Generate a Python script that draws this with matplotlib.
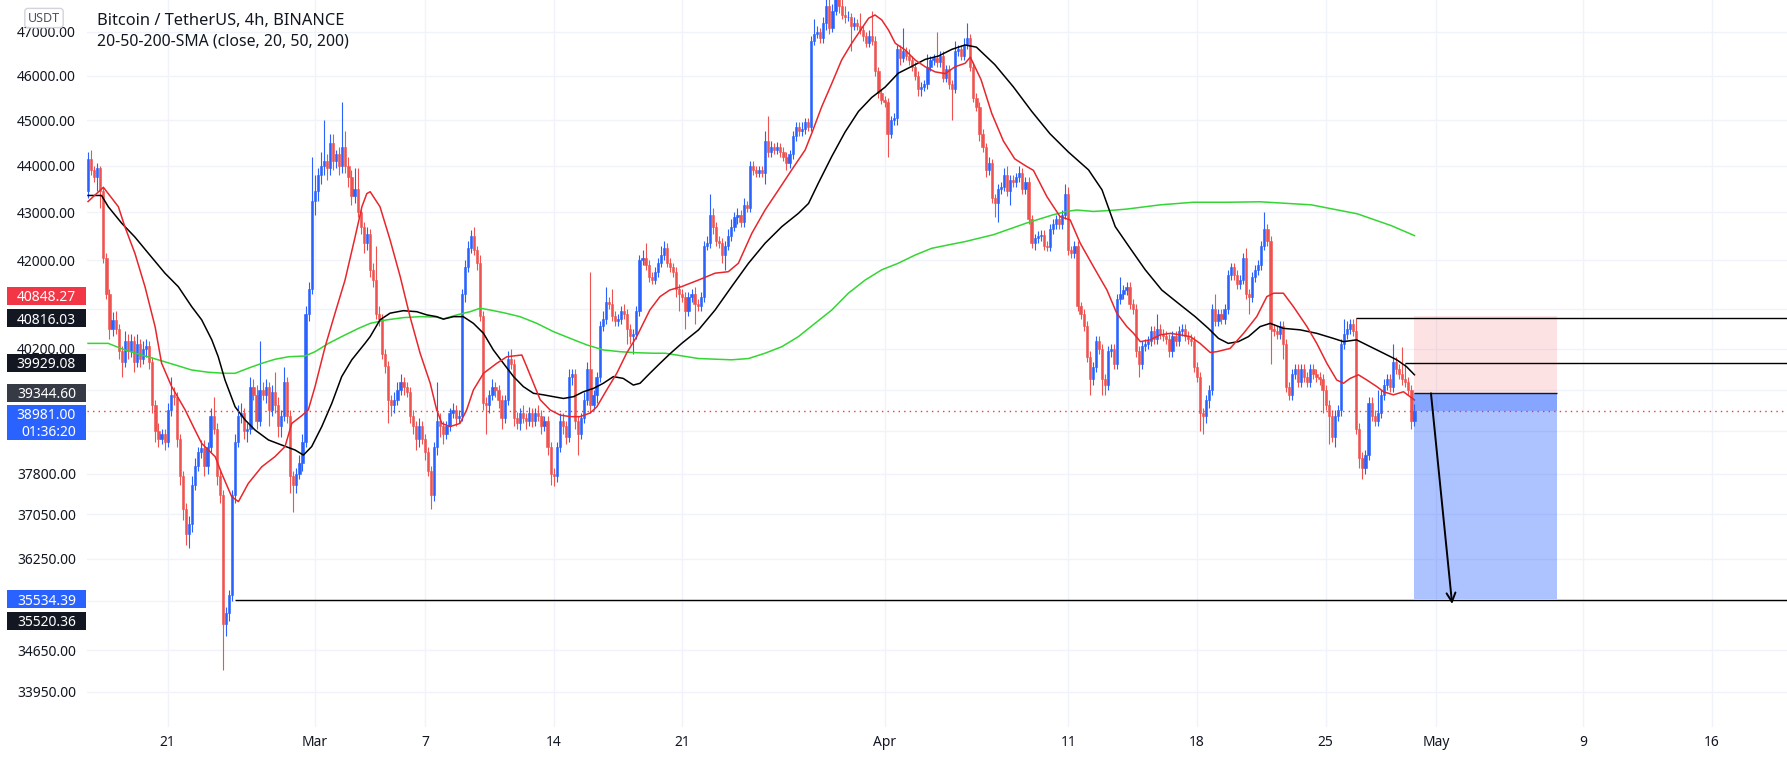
import numpy as np
import matplotlib
matplotlib.use("Agg")
import matplotlib.pyplot as plt
import matplotlib.ticker as mticker
from matplotlib.patches import Rectangle
from matplotlib.transforms import IdentityTransform

plt.rcParams["font.family"] = ["Noto Sans", "DejaVu Sans"]

# BTCUSDT 4h candles, Feb 16 16:00 .. Apr 29 20:00 (one row per day)
first_open = 43450
closes = [
    44150, 43900,                                # Feb 16
    43750, 43950, 43450, 42050, 41300, 40600,    # Feb 17
    40780, 40600, 40150, 39950, 40350, 40150,
    40350, 39950, 40300, 40000, 40200, 40250,
    39950, 39100, 38600, 38450, 38550, 38400,
    39000, 39300, 39250, 38450, 37750, 37150,    # Feb 21
    36700, 36880, 37600, 37950, 38200, 38280,
    37950, 38300, 38900, 38650, 37750, 37400,
    35100, 35300, 35600, 37400, 38400, 38900,    # Feb 24
    38950, 38600, 38650, 39450, 39300, 38800,
    39400, 39300, 39450, 39000, 39350, 39100,
    38700, 38900, 39550, 38900, 37750, 37600,
    37800, 38000, 38400, 40900, 41400, 43250,    # Feb 28
    43450, 43800, 44000, 44100, 43950, 44500,    # Mar 1
    44100, 44250, 44000, 44400, 44000, 43750,
    43350, 43500, 43000, 42700, 42350, 42550,
    41800, 41600, 40900, 40800, 40100, 39870,
    39200, 39100, 39200, 39400, 39550, 39450,
    39350, 38900, 38700, 38450, 38700, 38450,
    38200, 37850, 37400, 38300, 38800, 38700,    # Mar 7
    38550, 38700, 38950, 39000, 38850, 38900,
    41300, 41850, 42250, 42500, 42200, 41950,
    40850, 39150, 39100, 39300, 39450, 39400,
    39200, 38850, 39200, 40000, 39900, 38850,
    38750, 38950, 38850, 38800, 38950, 38800,
    38950, 38900, 38700, 38800, 38300, 37800,
    37750, 38300, 38800, 38700, 38500, 39650,    # Mar 14
    39700, 38800, 38550, 38850, 39200, 39800,
    39100, 39300, 39650, 40650, 40800, 41150,
    41100, 40850, 40750, 40800, 40950, 40900,
    40600, 40450, 40500, 40950, 42000, 42050,
    41900, 41650, 41600, 41750, 41950, 42100,
    42250, 41950, 41850, 41750, 41400, 41300,
    41250, 40950, 41250, 41300, 41100, 41050,    # Mar 21
    41250, 42300, 42350, 42950, 42700, 42400,
    42350, 42100, 42300, 42500, 42700, 42900,
    42950, 42800, 43150, 43100, 44000, 43900,
    43850, 43900, 43850, 44550, 44300, 44400,
    44350, 44400, 44300, 44200, 44050, 44250,
    44650, 44850, 44750, 44800, 44950, 44850,
    46800, 46950, 47000, 46850, 47200, 47600,    # Mar 28
    47100, 47500, 47800, 47600, 47400, 47350,
    47350, 47150, 47200, 47150, 47050, 46900,
    46750, 46900, 46800, 46100, 45600, 45450,
    45400, 44700, 45000, 45050, 46600, 46400,    # Apr 1
    46550, 46450, 46350, 46200, 46000, 45700,
    45750, 45800, 46200, 46350, 46400, 46300,
    46450, 45950, 46150, 45800, 45700, 46550,
    46600, 46450, 46700, 46850, 46200, 45500,
    45300, 44700, 44400, 43900, 44050, 43300,
    43200, 43500, 43550, 43800, 43450, 43700,
    43650, 43750, 43850, 43500, 43650, 42850,
    42350, 42450, 42500, 42520, 42300, 42280,
    42650, 42750, 42850, 42750, 42950, 43400,
    42200, 42150, 42300, 41050, 40900, 40650,    # Apr 11
    40050, 39600, 39850, 40350, 40200, 39600,
    39500, 40150, 40200, 39900, 41200, 41300,
    41380, 41450, 41100, 41000, 40150, 39900,
    40250, 40300, 40350, 40550, 40400, 40600,
    40500, 40450, 40400, 40150, 40450, 40350,
    40550, 40600, 40450, 40400, 40350, 39850,
    39650, 38950, 38900, 39200, 39400, 41000,    # Apr 18
    40750, 40900, 40800, 41000, 41700, 41850,
    41700, 41500, 41600, 42050, 41300, 41250,
    41650, 41800, 41900, 42300, 42650, 42400,
    40600, 40550, 40500, 40650, 40300, 39450,
    39300, 39700, 39800, 39550, 39800, 39650,
    39550, 39800, 39700, 39650, 39600, 39400,
    39100, 38900, 38500, 38900, 39000, 40300,    # Apr 25
    40500, 40600, 40700, 40550, 38650, 38100,
    37900, 38150, 39150, 38900, 38800, 38950,
    39300, 39500, 39600, 39450, 39950, 39800,
    39700, 39600, 39550, 39400, 38800, 38981,    # Apr 29
]
wick_up = [
    150, 200,
    100, 100, 50, 100, 100, 100,
    150, 170, 100, 100, 200, 150,
    150, 100, 200, 100, 150, 150,
    100, 100, 100, 150, 100, 100,
    150, 350, 150, 100, 100, 100,
    100, 150, 150, 150, 100, 150,
    150, 100, 150, 350, 100, 100,
    100, 100, 100, 100, 150, 200,
    200, 100, 100, 200, 150, 200,
    950, 150, 150, 100, 150, 400,
    150, 100, 300, 100, 100, 100,
    100, 150, 150, 150, 150, 950,
    350, 150, 300, 900, 150, 200,
    200, 100, 150, 1000, 350, 200,
    150, 450, 450, 100, 100, 150,
    100, 150, 700, 150, 100, 100,
    100, 100, 150, 150, 150, 100,
    100, 100, 100, 100, 150, 100,
    100, 100, 100, 100, 750, 150,
    100, 100, 100, 150, 100, 100,
    100, 150, 150, 130, 200, 100,
    150, 100, 100, 100, 150, 100,
    100, 100, 100, 150, 200, 100,
    120, 100, 150, 100, 120, 100,
    100, 150, 100, 100, 100, 100,
    100, 100, 150, 150, 100, 150,
    100, 100, 100, 100, 150, 150,
    1950, 100, 100, 100, 150, 300,
    100, 300, 100, 100, 100, 150,
    100, 100, 100, 100, 100, 150,
    300, 100, 100, 100, 100, 200,
    150, 100, 100, 100, 100, 100,
    100, 100, 100, 100, 150, 100,
    100, 100, 150, 450, 150, 100,
    100, 100, 100, 150, 150, 100,
    150, 100, 150, 100, 100, 100,
    100, 100, 100, 200, 550, 150,
    100, 120, 100, 100, 100, 100,
    100, 100, 100, 150, 100, 100,
    100, 350, 150, 100, 150, 200,
    400, 150, 200, 150, 200, 200,
    150, 100, 150, 100, 300, 100,
    100, 150, 600, 100, 100, 100,
    100, 100, 100, 100, 100, 100,
    550, 100, 150, 100, 100, 100,
    100, 100, 300, 100, 100, 600,
    100, 100, 100, 100, 100, 250,
    100, 100, 150, 350, 100, 100,
    100, 100, 100, 100, 150, 100,
    100, 100, 100, 150, 200, 100,
    100, 100, 150, 100, 100, 100,
    100, 100, 100, 100, 100, 100,
    100, 100, 100, 100, 100, 200,
    150, 100, 100, 100, 100, 100,
    100, 100, 100, 100, 100, 100,
    100, 100, 100, 100, 100, 350,
    100, 100, 100, 100, 100, 100,
    100, 100, 100, 100, 100, 300,
    100, 100, 100, 100, 100, 100,
    100, 100, 100, 100, 100, 100,
    100, 100, 100, 100, 100, 100,
    300, 100, 100, 100, 100, 100,
    100, 100, 100, 100, 200, 100,
    100, 100, 100, 100, 350, 100,
    100, 100, 100, 100, 100, 100,
    100, 100, 100, 100, 100, 100,
    100, 100, 100, 100, 100, 100,
    100, 100, 100, 100, 100, 100,
    300, 150, 100, 100, 266, 100,
    100, 100, 100, 100, 100, 450,
    100, 100, 100, 100, 350, 100,
    100, 540, 329, 100, 100, 150,
]
wick_dn = [
    150, 100,
    100, 300, 350, 100, 100, 200,
    150, 100, 150, 300, 100, 150,
    100, 200, 100, 150, 100, 150,
    150, 150, 200, 150, 100, 150,
    100, 100, 150, 150, 150, 200,
    200, 250, 150, 100, 100, 100,
    200, 150, 100, 100, 150, 150,
    778, 200, 150, 100, 150, 100,
    150, 150, 200, 100, 100, 150,
    100, 100, 150, 300, 100, 150,
    200, 200, 100, 150, 300, 500,
    150, 100, 150, 100, 150, 100,
    300, 200, 200, 200, 250, 150,
    200, 150, 200, 150, 150, 200,
    200, 150, 100, 150, 200, 150,
    150, 150, 100, 150, 100, 150,
    450, 200, 150, 100, 100, 150,
    100, 150, 150, 200, 150, 100,
    150, 100, 250, 100, 150, 200,
    200, 100, 100, 100, 150, 100,
    100, 150, 100, 100, 100, 150,
    100, 150, 550, 150, 100, 150,
    150, 200, 100, 100, 100, 150,
    100, 120, 100, 150, 100, 120,
    100, 100, 150, 100, 150, 200,
    170, 100, 100, 150, 150, 100,
    150, 150, 400, 100, 100, 100,
    150, 100, 150, 100, 100, 100,
    100, 100, 100, 100, 100, 100,
    300, 150, 350, 100, 100, 100,
    100, 100, 100, 100, 100, 100,
    100, 100, 100, 100, 150, 350,
    100, 350, 100, 100, 400, 100,
    100, 100, 100, 100, 150, 100,
    100, 150, 300, 100, 100, 100,
    150, 100, 100, 100, 100, 100,
    100, 100, 100, 250, 100, 100,
    100, 100, 120, 100, 150, 100,
    100, 100, 100, 100, 100, 100,
    100, 100, 100, 100, 100, 150,
    150, 100, 100, 150, 100, 150,
    100, 600, 100, 100, 100, 100,
    100, 100, 100, 100, 100, 100,
    100, 500, 100, 100, 150, 150,
    100, 100, 100, 100, 100, 150,
    150, 100, 100, 100, 100, 100,
    100, 100, 100, 100, 700, 100,
    100, 100, 100, 100, 100, 100,
    100, 150, 100, 150, 100, 100,
    300, 400, 100, 100, 100, 300,
    100, 100, 100, 100, 100, 100,
    100, 150, 100, 100, 100, 100,
    100, 100, 100, 100, 100, 100,
    100, 100, 100, 100, 100, 100,
    100, 300, 100, 100, 100, 300,
    200, 100, 100, 100, 100, 100,
    100, 100, 100, 100, 100, 250,
    100, 100, 100, 100, 100, 100,
    100, 100, 100, 100, 100, 100,
    100, 100, 100, 100, 100, 100,
    100, 350, 350, 150, 150, 100,
    100, 100, 100, 100, 100, 100,
    100, 100, 100, 100, 100, 350,
    100, 100, 100, 100, 100, 100,
    700, 100, 100, 100, 300, 100,
    100, 100, 100, 100, 100, 100,
    100, 100, 100, 100, 100, 450,
    100, 550, 100, 200, 100, 100,
    100, 100, 100, 100, 100, 200,
    200, 100, 100, 100, 100, 100,
    100, 100, 100, 100, 100, 100,
    100, 100, 100, 100, 150, 100,
]

# moving averages (candle index, price)
sma20_at = [0, 5, 9.9, 12, 15.3, 18.6, 21.9, 24, 27.3, 31.7, 34.9, 37.1, 41.5, 43.6, 46.9, 49.1,
            52.3, 56.7, 61, 64.3, 66.5, 69.8, 71.9, 74.1, 77.4, 80.6, 83.9, 87.2, 89.4, 91, 92.1,
            95.3, 98.6, 101.9, 105.1, 108.4, 111.7, 113.8, 115.5, 118.2, 121.4, 123.6, 125.8, 129.1,
            133.4, 136.7, 141.6, 143.2, 145.4, 147.6, 150.8, 154.1, 157.4, 160.6, 163.9, 166.1,
            169.3, 172.6, 175.8, 179.1, 183.4, 186.7, 189.9, 193.8, 199.3, 204.7, 209, 212.3,
            216.7, 221, 225.4, 229.7, 234.1, 236.3, 239.5, 242.8, 246, 249.3, 252.6, 254.8, 256.9,
            259.1, 261.3, 263.5, 266.7, 270, 273.3, 276.5, 279.8, 283, 286.3, 288, 291.5, 295,
            298.8, 302.5, 306, 308.6, 313, 317.3, 320.6, 323.9, 328.2, 332.6, 335.8, 339.1, 341.3,
            343.5, 346.7, 350, 353.3, 356.5, 359.8, 363, 366.3, 368.5, 372.8, 377.2, 381.5, 384.8,
            387, 390.2, 393.5, 397.9, 401.1, 404.4, 407.6, 409.8, 412, 414.7, 417.4, 420.7, 422.9,
            426.1, 429.4, 433]
sma20 = [43230, 43535, 43120, 42700, 42140, 41450, 40640, 39920, 39460, 39010, 38625, 38370, 38120,
         37810, 37375, 37285, 37620, 37930, 38120, 38310, 38750, 38900, 39010, 39460, 40245, 40910,
         41590, 42490, 43120, 43400, 43440, 43120, 42420, 41660, 40845, 40115, 39525, 39010, 38750,
         38690, 38750, 39010, 39395, 39720, 39915, 40045, 40080, 39850, 39525, 39205, 39010, 38910,
         38880, 38880, 38950, 39070, 39395, 39720, 40115, 40445, 40980, 41250, 41385, 41455, 41590,
         41730, 41760, 41935, 42560, 43050, 43480, 43910, 44345, 44720, 45300, 45825, 46355, 46740,
         47085, 47320, 47395, 47280, 47045, 46740, 46585, 46355, 46200, 46085, 46045, 46200, 46280,
         46420, 45910, 45150, 44540, 44150, 44000, 43900, 43335, 42910, 42840, 42350, 41865, 41385,
         40915, 40645, 40510, 40345, 40380, 40480, 40510, 40480, 40445, 40310, 40130, 40146, 40210,
         40510, 40845, 41250, 41320, 41320, 41045, 40645, 40310, 39915, 39590, 39525, 39620, 39690,
         39590, 39460, 39360, 39300, 39360, 39200]
sma50_at = [0, 4.4, 6.6, 11, 15.3, 19.7, 25.1, 29.5, 33.8, 37.1, 40.4, 42.5, 44.7, 48, 51.3, 54.5,
            58.9, 63.2, 67.6, 70.3, 73, 76.3, 79.6, 82.8, 86.1, 90.4, 92.1, 95.3, 98.6, 102.9, 107.3,
            110.6, 113.8, 116, 119.3, 122.5, 125.8, 129.1, 132.3, 135.6, 138.9, 142.1, 145.4, 148.7,
            151.9, 155.2, 158.5, 161.7, 165, 168.2, 171.5, 174.7, 178, 180.2, 183.4, 186.7, 189.9,
            193.8, 199.3, 204.7, 210.1, 215.6, 221, 226.5, 231.9, 235.2, 238.4, 242.8, 247.1, 251.5,
            255.8, 260.2, 264.5, 268.9, 273.3, 277.6, 282, 286.3, 290, 296, 302, 308, 314, 320, 326.6,
            331, 335.3, 339.7, 345.1, 350.5, 355.9, 361.4, 365.7, 369, 372.2, 375.5, 378.8, 382.6,
            385.9, 390.2, 395.7, 401.1, 406.5, 409.8, 414.1, 417.4, 422.9, 427.2, 430.4, 433]
sma50 = [43360, 43360, 43120, 42770, 42480, 42140, 41730, 41450, 41050, 40780, 40380, 40045, 39590,
         39070, 38815, 38625, 38435, 38340, 38245, 38150, 38310, 38690, 39140, 39655, 39985, 40310,
         40445, 40780, 40915, 40965, 40945, 40880, 40845, 40795, 40845, 40845, 40710, 40510, 40180,
         39915, 39655, 39460, 39330, 39300, 39265, 39230, 39265, 39360, 39425, 39525, 39655, 39620,
         39490, 39525, 39720, 39915, 40100, 40310, 40580, 40980, 41455, 41935, 42350, 42700, 42980,
         43190, 43625, 44205, 44735, 45195, 45505, 45740, 46055, 46210, 46370, 46445, 46600, 46700,
         46650, 46250, 45750, 45200, 44700, 44300, 43910, 43480, 42700, 42290, 41800, 41385, 41115,
         40845, 40610, 40410, 40310, 40345, 40445, 40645, 40710, 40610, 40580, 40510, 40410, 40345,
         40380, 40280, 40115, 39985, 39850, 39690]
sma200_at = [0, 6.6, 12, 17.5, 22.9, 28.4, 33.8, 39.3, 44.7, 48, 52.3, 56.7, 61, 65.4, 70.8, 74.1,
             78.5, 82.8, 88.3, 92.1, 97.5, 102.9, 108.4, 113.8, 116, 120.4, 124.7, 128, 131.2, 135.6,
             141, 146.5, 151.9, 157.4, 162.8, 168.2, 173.7, 179.1, 184.5, 188.4, 199.3, 210.1, 215.6,
             221, 226.5, 231.9, 237.3, 242.8, 248.2, 253.7, 259.1, 264.5, 270, 275.4, 280.8, 286.3,
             295.6, 306.4, 315.1, 319.5, 322.7, 328.2, 333.6, 339.1, 350, 360.8, 371.8, 382.6, 399.3,
             414.3, 425.4, 433]
sma200 = [40310, 40310, 40180, 40080, 39985, 39885, 39785, 39740, 39720, 39720, 39820, 39915, 39995,
          40045, 40060, 40145, 40310, 40445, 40610, 40710, 40780, 40825, 40845, 40835, 40800, 40880,
          40945, 41015, 40980, 40925, 40845, 40710, 40545, 40410, 40280, 40180, 40145, 40125, 40115,
          40115, 40010, 39985, 40010, 40115, 40245, 40445, 40710, 40980, 41320, 41590, 41800, 41935,
          42105, 42245, 42315, 42385, 42530, 42775, 42950, 43020, 43050, 43020, 43040, 43070, 43160,
          43215, 43215, 43225, 43160, 42970, 42720, 42510]

# axis ticks (days counted from Feb 16 00:00)
date_ticks = [5, 13, 19, 26, 33, 44, 54, 61, 68, 74, 82, 89]
date_labels = ["21", "Mar", "7", "14", "21", "Apr", "11", "18", "25", "May", "9", "16"]
price_ticks = [33950, 34650, 35500, 36250, 37050, 37800, 38600, 39400, 40200, 41000,
               42000, 43000, 44000, 45000, 46000, 47000]
hidden_ticks = [35500, 38600, 39400, 41000]   # covered by price tags on the scale

# short position tool and drawn levels
entry = 39344.60
stop = 40848.27
target = 35534.39
last_price = 38981.00
countdown = "01:36:20"
level_prices = [40816.03, 39929.08, 35520.36]
level_from = [414, 430, 48]          # candle index where each line starts

BLUE = "#2962FF"
RED = "#EF5350"
TEXT = "#131722"


def day(idx):
    return 16 / 24 + np.asarray(idx, dtype=float) / 6


c = np.array(closes, dtype=float)
o = np.r_[first_open, c[:-1]]
hi = np.maximum(o, c) + np.array(wick_up)
lo = np.minimum(o, c) - np.array(wick_dn)
t = day(np.arange(len(c)))
col = np.where(c >= o, BLUE, RED)

fig = plt.figure(figsize=(17.87, 7.59), dpi=100)
fig.patch.set_facecolor("white")
ax = fig.add_axes([87 / 1787, 32 / 759, 1700 / 1787, 727 / 759])
ax.set_yscale("log")

ax.vlines(t, lo, hi, colors=col, lw=0.8, zorder=3)
ax.bar(t, np.abs(c - o), bottom=np.minimum(o, c), width=0.12, color=col,
       edgecolor=col, linewidth=0.4, zorder=3)

ax.plot(day(sma200_at), sma200, color="#33D633", lw=1.1, zorder=4)
ax.plot(day(sma50_at), sma50, color="black", lw=1.1, zorder=4)
ax.plot(day(sma20_at), sma20, color="#E8262B", lw=1.1, zorder=4)

# position tool
x0, x1 = t[-1], 80.6
ax.add_patch(Rectangle((x0, entry), x1 - x0, stop - entry, fc="#F23645", alpha=0.14, ec="none", zorder=5))
ax.add_patch(Rectangle((x0, target), x1 - x0, entry - target, fc=BLUE, alpha=0.38, ec="none", zorder=5))
ax.add_patch(Rectangle((x0, last_price), x1 - x0, entry - last_price, fc=BLUE, alpha=0.3, ec="none", zorder=5))
ax.hlines(entry, x0, x1, color=TEXT, lw=1, zorder=6)

xmax = 93.1
for lvl, start in zip(level_prices, level_from):
    ax.hlines(lvl, day(start), xmax, color="black", lw=1, zorder=6)

ax.axhline(last_price, color="#F23645", lw=1, ls=(0, (1, 3)), zorder=6)
ax.annotate("", xy=(74.88, 35450), xytext=(73.73, 39330),
            arrowprops=dict(arrowstyle="->", color="black", lw=1.4,
                            mutation_scale=16, shrinkA=0, shrinkB=0), zorder=7)

ax.set_xlim(0.61, xmax)
ax.set_ylim(33363, 47747)
ax.yaxis.set_major_locator(mticker.FixedLocator(price_ticks))
ax.yaxis.set_major_formatter(mticker.FuncFormatter(
    lambda v, p: "" if round(v) in hidden_ticks else f"{v:.2f}"))
ax.yaxis.set_minor_locator(mticker.NullLocator())
ax.xaxis.set_major_locator(mticker.FixedLocator(date_ticks))
ax.xaxis.set_major_formatter(mticker.FixedFormatter(date_labels))
ax.xaxis.set_minor_locator(mticker.NullLocator())
ax.tick_params(axis="y", length=0, pad=8, labelsize=10, labelcolor=TEXT)
ax.tick_params(axis="x", length=0, pad=6, labelsize=10, labelcolor=TEXT)
ax.grid(True, color="#F0F3FA", lw=1)
ax.set_axisbelow(True)
for s in ax.spines.values():
    s.set_visible(False)

# price tags on the left scale (pixel placement)
PIX = IdentityTransform()


def ypx(price):
    return ax.transData.transform((1, price))[1]


def tag(price, text, face, shift=0.0):
    y = ypx(price) - shift
    fig.add_artist(Rectangle((7, y - 9), 79, 18, transform=PIX, fc=face, ec="none", zorder=10))
    fig.text(76, y, text, transform=PIX, ha="right", va="center_baseline",
             color="white", fontsize=10, zorder=11)


tag(stop, f"{stop:.2f}", "#F23645", shift=-20.5)
tag(level_prices[0], f"{level_prices[0]:.2f}", TEXT)
tag(level_prices[1], f"{level_prices[1]:.2f}", TEXT)
tag(entry, f"{entry:.2f}", "#363A45")
tag(target, f"{target:.2f}", BLUE)
tag(level_prices[2], f"{level_prices[2]:.2f}", TEXT, shift=21)

yc = ypx(last_price)
fig.add_artist(Rectangle((7, yc - 28.5), 79, 35, transform=PIX, fc=BLUE, ec="none", zorder=10))
fig.text(76, yc - 2, f"{last_price:.2f}", transform=PIX, ha="right", va="center_baseline",
         color="white", fontsize=10, zorder=11)
fig.text(76, yc - 19, countdown, transform=PIX, ha="right", va="center_baseline",
         color="white", fontsize=10, zorder=11)

fig.text(44, 759 - 18, "USDT", transform=PIX, ha="center", va="center", fontsize=9,
         color="#50535E", zorder=12,
         bbox=dict(boxstyle="round,pad=0.25,rounding_size=0.25", fc="white", ec="#D1D4DC", lw=1))
fig.text(97, 759 - 21, "Bitcoin / TetherUS, 4h, BINANCE", transform=PIX, ha="left",
         va="center", fontsize=11.8, fontweight="bold", color=TEXT)
fig.text(97, 759 - 41, "20-50-200-SMA (close, 20, 50, 200)", transform=PIX, ha="left",
         va="center", fontsize=11.4, color=TEXT)

fig.savefig("out.png", dpi=100)
